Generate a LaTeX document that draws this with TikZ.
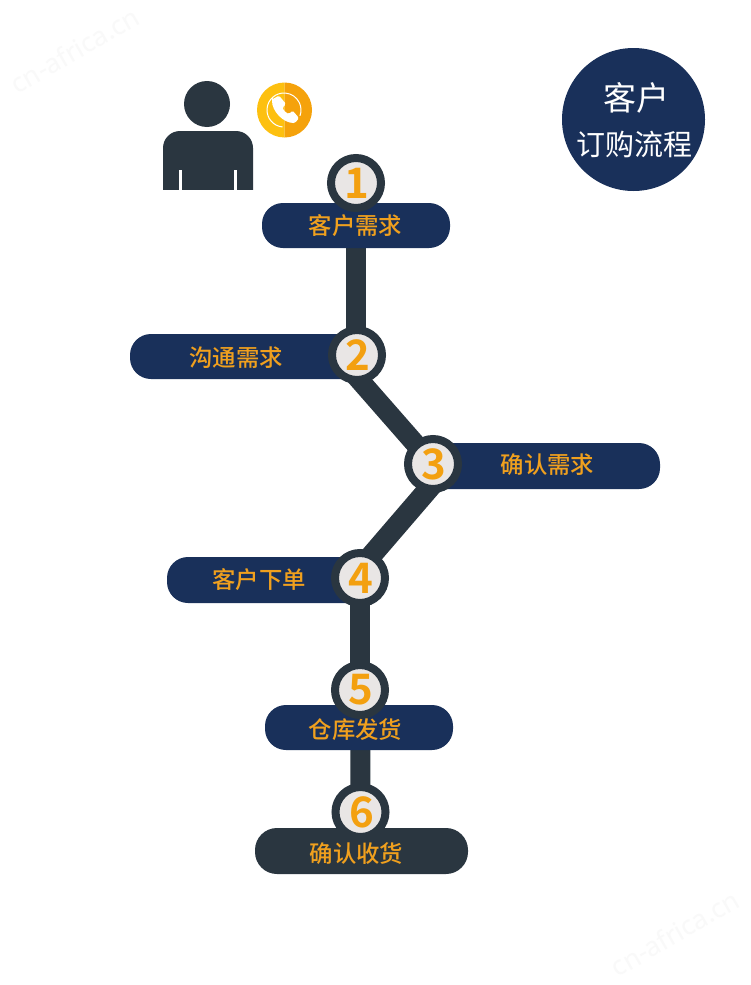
\documentclass[tikz,border=0pt]{standalone}
\usepackage{fontspec}
\newfontfamily\cjk{Noto Sans CJK SC Medium}
\newfontfamily\cjkr{Noto Sans CJK SC}
\newfontfamily\cjkb{Noto Sans CJK SC Bold}
\newfontfamily\wmfont{Noto Sans}
\definecolor{navy}{HTML}{19305A}
\definecolor{slate}{HTML}{2A3640}
\definecolor{amber}{HTML}{F0A01E}
\definecolor{digit}{HTML}{F3A010}
\definecolor{pale}{HTML}{E9E6E5}
\definecolor{goldL}{HTML}{FDC010}
\definecolor{goldR}{HTML}{F5A20B}
\definecolor{wm}{HTML}{F9F9F9}
\newcommand\dg[1]{\hspace*{2pt}\raisebox{-2pt}{#1}}
\tikzset{
  barbox/.style={fill=navy,rounded corners=21pt,inner sep=0pt,minimum height=45pt},
  barlabel/.style={text=amber,inner sep=0pt,font=\cjk\fontsize{23.4}{24}\selectfont},
  stepdot/.style={circle,fill=pale,draw=slate,line width=8pt,minimum size=50pt,inner sep=0pt,text=digit,font=\cjkb\fontsize{42}{42}\selectfont},
  link/.style={slate,line width=20pt},
  wmark/.style={text=wm,font=\wmfont\fontsize{26.5}{27}\selectfont,rotate=30}
}
\begin{document}
\begin{tikzpicture}[x=1pt,y=-1pt]
\useasboundingbox (0,0) rectangle (750,985);
\fill[white] (0,0) rectangle (750,985);
\node[wmark] (wma) at (75,50) {cn-africa.cn};
\node[wmark] (wmb) at (675,933) {cn-africa.cn};
% person
\fill[slate] (207,104) circle (23);
\fill[slate,rounded corners=17pt] (163,210) -- (163,131) -- (253,131) -- (253,210) -- cycle;
\fill[white] (150,190) rectangle (265,215);
\fill[white] (179,170) rectangle (182,190);
\fill[white] (234,170) rectangle (237,190);
% phone
\fill[goldL] (284.5,82.5) arc[start angle=-90,end angle=-270,radius=27.5] -- cycle;
\fill[goldR] (284.5,82.5) arc[start angle=-90,end angle=90,radius=27.5] -- cycle;
\draw[white,line width=1pt] (284,110) ++(95:17) arc[start angle=95,end angle=380,radius=17];
\fill[white,rounded corners=1.5pt] (272,99.5) -- (279,95.5) -- (286,104) -- (282.5,107.5) .. controls (283.5,110) and (285.5,112.5) .. (289,114) -- (292.5,110.5) -- (299,118) -- (295,123) .. controls (283,123) and (272,111) .. (272,99.5) -- cycle;
% title
\node[circle,fill=navy,minimum size=143pt,inner sep=0pt] (title) at (633.5,119.5) {};
\node[text=white,font=\cjkr\fontsize{33}{33}\selectfont] (titleA) at (636.5,97.5) {客户};
\node[text=white,font=\cjkr\fontsize{29}{29}\selectfont] (titleB) at (634,144) {订购流程};
% steps positions
\coordinate (p1) at (356,183);
\coordinate (p2) at (357,355);
\coordinate (c2) at (337.5,355);
\coordinate (p3) at (433,464);
\coordinate (c3) at (450,464);
\coordinate (p4) at (360,578);
\coordinate (c4) at (352,578);
\coordinate (p5) at (360,690);
\coordinate (p6) at (360.5,812);
\draw[link] (p1) -- (p1 |- p2);
\draw[link] (c2) -- (p3);
\draw[link,line width=21pt] (c3) -- (c4);
\draw[link] (p4) -- (p5);
\draw[link] (p5) -- (p6);
% bars
\node[barbox,minimum width=240pt] (b2) at (250,356.5) {};
\node[barbox,minimum width=240pt,minimum height=46pt] (b3) at (540,466) {};
\node[barbox,minimum width=208pt,minimum height=46pt] (b4) at (271,580) {};
\node[barbox,minimum width=188pt] (b1) at (356,225.5) {};
\node[barbox,minimum width=188pt] (b5) at (359,727.5) {};
\node[barbox,minimum width=213pt,fill=slate,minimum height=46pt,rounded corners=22pt] (b6) at (361.5,851) {};
% dots
\node[stepdot] (s1) at (p1) {\dg{1}};
\node[stepdot] (s2) at (p2) {\dg{2}};
\node[stepdot] (s3) at (p3) {\dg{3}};
\node[stepdot] (s4) at (p4) {\dg{4}};
\node[stepdot] (s5) at (p5) {\dg{5}};
\node[stepdot] (s6) at (p6) {\dg{6}};
% labels
\node[barlabel] (t1) at (355.5,226) {客户需求};
\node[barlabel] (t2) at (236,358) {沟通需求};
\node[barlabel] (t3) at (547.5,465) {确认需求};
\node[barlabel] (t4) at (259,580) {客户下单};
\node[barlabel] (t5) at (355.5,730) {仓库发货};
\node[barlabel] (t6) at (356.5,854) {确认收货};
\end{tikzpicture}
\end{document}
